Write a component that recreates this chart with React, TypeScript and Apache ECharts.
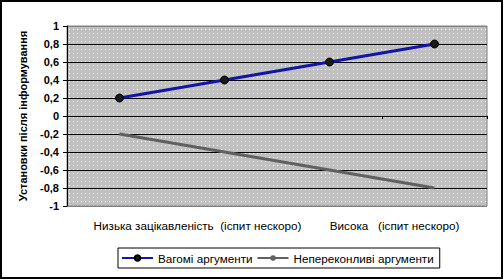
import React, { useEffect, useRef } from "react";
import * as echarts from "echarts";

const categories = ["Низька зацікавленість  (іспит нескоро)", " ", "Висока   (іспит нескоро)", "  "];
const seriesNames = ["Вагомі аргументи", "Непереконливі аргументи"];
const strongArgs = [0.2, 0.4, 0.6, 0.8];
const weakArgs = [-0.2, -0.4, -0.6, -0.8];
const yAxisTitle = "Установки після інформування";

const FONT = "'Liberation Sans', Arial, sans-serif";
const FS = 11.7;

function makePattern(): any {
  const c = document.createElement("canvas");
  c.width = 4;
  c.height = 4;
  const ctx = c.getContext("2d");
  if (!ctx) return "#c8c8c8";
  ctx.fillStyle = "#c0c0c0";
  ctx.fillRect(0, 0, 4, 4);
  ctx.fillStyle = "#ffffff";
  ctx.fillRect(1, 1, 1, 1);
  return { image: c, repeat: "repeat" };
}

export default function App() {
  const ref = useRef<HTMLDivElement>(null);
  useEffect(() => {
    if (!ref.current) return;
    const chart = echarts.init(ref.current, null, { renderer: "svg" });
    const splitColors: string[] = [];
    for (let i = 0; i <= 10; i++) splitColors.push(i === 0 || i === 10 ? "#808080" : "#000000");
    chart.setOption({
      animation: false,
      backgroundColor: "#ffffff",
      textStyle: { fontFamily: FONT },
      grid: {
        left: 67,
        top: 26,
        right: 17,
        bottom: 74,
        show: true,
        borderColor: "#808080",
        borderWidth: 1,
        backgroundColor: makePattern(),
      },
      legend: {
        left: 118,
        top: 248,
        padding: [4, 6, 4, 3],
        borderColor: "#000000",
        borderWidth: 1,
        itemWidth: 31,
        itemHeight: 7,
        itemGap: 4,
        textStyle: { fontFamily: FONT, fontSize: FS, color: "#000" },
        data: seriesNames,
      },
      xAxis: [
        {
          type: "category",
          data: categories,
          boundaryGap: true,
          position: "bottom",
          axisLine: { show: false, onZero: false },
          axisTick: { show: false },
          axisLabel: {
            interval: 0,
            margin: 13,
            fontFamily: FONT,
            fontSize: FS,
            color: "#000",
            formatter: (v: string, i: number) => (i === 0 ? `{a|${v}}` : i === 2 ? `{b|${v}}` : ""),
            rich: {
              a: { padding: [0, 0, 0, 156], fontFamily: FONT, fontSize: FS, color: "#000" },
              b: { padding: [0, 0, 0, 130], fontFamily: FONT, fontSize: FS, color: "#000" },
            },
          },
          splitLine: { show: false },
        },
        {
          type: "category",
          data: categories,
          boundaryGap: true,
          position: "bottom",
          axisLine: { show: true, onZero: true, lineStyle: { color: "#000", width: 1 } },
          axisTick: { show: true, length: 3, lineStyle: { color: "#000" } },
          axisLabel: { show: false },
          splitLine: { show: false },
        },
      ],
      yAxis: {
        type: "value",
        min: -1,
        max: 1,
        interval: 0.2,
        name: yAxisTitle,
        nameLocation: "middle",
        nameGap: 39,
        nameTextStyle: { fontFamily: FONT, fontSize: 11, fontWeight: "bold", color: "#000" },
        axisLine: { show: true, lineStyle: { color: "#000", width: 1 } },
        axisTick: { show: true, length: 4, lineStyle: { color: "#000" } },
        axisLabel: {
          margin: 8,
          fontFamily: FONT,
          fontSize: 11,
          fontWeight: "bold",
          color: "#000",
          formatter: (v: number) => String(Math.round(v * 10) / 10).replace(".", ","),
        },
        splitLine: { show: true, lineStyle: { color: splitColors, width: 1 } },
      },
      series: [
        {
          name: seriesNames[0],
          type: "line",
          data: strongArgs,
          xAxisIndex: 1,
          symbol: "circle",
          symbolSize: 8,
          lineStyle: { color: "#1414a8", width: 3 },
          itemStyle: { color: "#1a1a1a", borderColor: "#000", borderWidth: 1 },
          color: "#1414a8",
        },
        {
          name: seriesNames[1],
          type: "line",
          data: weakArgs,
          xAxisIndex: 1,
          symbol: "none",
          showSymbol: false,
          lineStyle: { color: "#606060", width: 3 },
          itemStyle: { color: "#606060" },
          color: "#606060",
        },
      ],
      graphic: [
        {
          type: "rect",
          shape: { x: 1, y: 1, width: 501, height: 277 },
          style: { fill: "none", stroke: "#000", lineWidth: 2 },
          silent: true,
          z: 100,
        },
      ],
    });
    return () => chart.dispose();
  }, []);
  return <div ref={ref} style={{ width: 504, height: 280, position: "absolute", left: 0, top: 0 }} />;
}
